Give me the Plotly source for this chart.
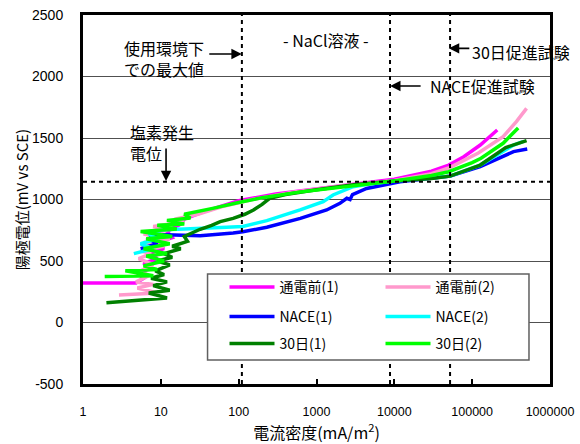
import plotly.graph_objects as go

# ---------------- data (current density mA/m2, anodic potential mV vs SCE) -------------
cur_pre1 = [1, 4.8, 6, 5, 7.5, 6, 9, 7, 11, 8, 14, 12, 18, 20, 35, 100, 300, 1000, 3000,
            10000, 30000, 50000, 78000, 127000, 210000]
pot_pre1 = [321, 321, 360, 400, 440, 480, 520, 560, 600, 640, 690, 740, 800, 840, 900, 990,
            1045, 1090, 1125, 1165, 1230, 1280, 1348, 1443, 1565]

cur_pre2 = [2.9, 9, 5, 8, 4.8, 7, 5.5, 8, 5.2, 7.5, 5.5, 11, 6, 13, 6, 12, 8, 20, 15, 30, 60,
            150, 500, 2000, 10000, 30000, 50000, 120000, 250000, 370000, 500000]
pot_pre2 = [224, 240, 280, 310, 330, 380, 420, 470, 520, 560, 580, 620, 650, 680, 720, 750,
            780, 820, 840, 880, 940, 1000, 1060, 1110, 1155, 1210, 1256, 1378, 1511, 1633, 1741]

cur_nace1 = [5.5, 9, 7, 8.5, 15, 32, 85, 113, 230, 620, 1350, 2000, 2450, 2700, 2900, 4400,
             11800, 30000, 52000, 127000, 340000, 510000]
pot_nace1 = [600, 640, 680, 715, 712, 706, 727, 738, 774, 847, 915, 969, 1010, 1000, 1040, 1090,
             1145, 1170, 1190, 1267, 1389, 1410]

cur_nace2 = [4.5, 8, 5.5, 9, 7, 10, 11, 20, 40, 70, 113, 230, 615, 1220, 1630, 2950, 5400,
             10000, 30000, 52000, 127000, 340000, 450000]
pot_nace2 = [560, 600, 640, 680, 720, 745, 755, 760, 765, 775, 780, 828, 915, 982, 1037, 1104,
             1131, 1150, 1175, 1190, 1280, 1443, 1470]

cur_d30_1 = [2.0, 9, 12, 7, 13, 8, 12, 7.5, 11, 8.5, 13, 9, 14, 11, 18, 14, 22, 20, 32, 45, 58,
             85, 120, 155, 200, 250, 400, 1000, 3000, 10000, 30000, 52000, 127000, 270000, 500000]
pot_d30_1 = [161, 194, 200, 240, 262, 300, 330, 360, 390, 420, 468, 500, 530, 560, 600, 620, 660,
             700, 758, 790, 820, 847, 880, 915, 960, 1010, 1040, 1080, 1120, 1150, 1170, 1190,
             1280, 1423, 1478]

cur_d30_2 = [1.9, 8, 3.5, 9, 6, 11, 6.5, 12, 6, 13, 6.5, 14, 5.5, 16, 9, 20, 12, 24, 20, 33, 48,
             100, 200, 600, 2000, 5000, 10000, 30000, 50000, 100000, 130000, 250000, 390000]
pot_d30_2 = [373, 380, 420, 430, 460, 500, 540, 560, 600, 640, 680, 700, 740, 760, 790, 800, 830,
             850, 880, 905, 930, 975, 1015, 1060, 1100, 1130, 1150, 1195, 1226, 1300, 1335, 1457,
             1581]

# reference lines
cl_potential = 1145          # chlorine evolution potential
field_max_cur = 110          # max current in service
nace_cur = 8800              # NACE accelerated test
d30_cur = 52000              # 30-day accelerated test

x_tickvals = [1, 10, 100, 1000, 10000, 100000, 1000000]
x_ticktext = ["1", "10", "100", "1000", "10000", "100000", "1000000"]
y_tickvals = [-500, 0, 500, 1000, 1500, 2000, 2500]
y_ticktext = ["-500", "0", "500", "1000", "1500", "2000", "2500"]

series = [
    ("通電前(1)", cur_pre1, pot_pre1, "#FF00FF", "legend"),
    ("通電前(2)", cur_pre2, pot_pre2, "#FF99CC", "legend"),
    ("NACE(1)", cur_nace1, pot_nace1, "#0000FF", "legend2"),
    ("NACE(2)", cur_nace2, pot_nace2, "#00FFFF", "legend2"),
    ("30日(1)", cur_d30_1, pot_d30_1, "#008000", "legend3"),
    ("30日(2)", cur_d30_2, pot_d30_2, "#00FF00", "legend3"),
]

JP = "Noto Sans CJK JP"
AR = "Liberation Sans"

fig = go.Figure()
for name, xs, ys, col, lg in series:
    fig.add_trace(go.Scatter(x=xs, y=ys, mode="lines", name=name, legend=lg,
                             line=dict(color=col, width=3.5)))

dot = dict(color="black", width=2, dash="4px,4px")
for v in [field_max_cur, nace_cur, d30_cur]:
    fig.add_trace(go.Scatter(x=[v, v], y=[-500, 2500], mode="lines", line=dot,
                             showlegend=False, hoverinfo="skip"))
fig.add_trace(go.Scatter(x=[1, 1000000], y=[cl_potential, cl_potential], mode="lines",
                         line=dot, showlegend=False, hoverinfo="skip"))

leg_common = dict(orientation="h", xanchor="left", yanchor="middle",
                  bgcolor="rgba(0,0,0,0)", borderwidth=0, itemwidth=45,
                  entrywidth=96, font=dict(family=JP, size=14, color="black"))
fig.update_layout(
    legend=dict(x=0.303, y=0.262, **leg_common),
    legend2=dict(x=0.303, y=0.1816, **leg_common),
    legend3=dict(x=0.303, y=0.109, **leg_common),
)

fig.add_shape(type="rect", xref="paper", yref="paper", x0=0.2667, x1=0.955, y0=0.065, y1=0.298,
              layer="above", fillcolor="white", line=dict(color="#606060", width=1.5))

ann_font = dict(family=JP, size=16, color="black")
annots = [
    dict(x=3.12, y=2297, text="- NaCl溶液 -", xanchor="center", yanchor="middle", showarrow=False),
    dict(x=0.50, y=2146, text="使用環境下<br>での最大値", xanchor="left", yanchor="middle",
         showarrow=False, align="left"),
    dict(x=0.578, y=1467, text="塩素発生<br>電位", xanchor="left", yanchor="middle",
         showarrow=False, align="left"),
    dict(x=4.434, y=1923, text="NACE促進試験", xanchor="left", yanchor="middle", showarrow=False),
    dict(x=4.974, y=2199, text="30日促進試験", xanchor="left", yanchor="middle", showarrow=False),
]
for a in annots:
    fig.add_annotation(font=ann_font, **a)

arrows = [
    dict(x=2.04, y=2183, ax=-34, ay=0),
    dict(x=1.067, y=1150, ax=0, ay=-34),
    dict(x=3.946, y=1923, ax=32, ay=0),
    dict(x=4.70, y=2229, ax=22, ay=0),
]
for a in arrows:
    fig.add_annotation(text="", showarrow=True, arrowhead=2, arrowsize=1.3, arrowwidth=1.6,
                       arrowcolor="black", axref="pixel", ayref="pixel", **a)

fig.update_xaxes(type="log", range=[0, 6], tickvals=x_tickvals, ticktext=x_ticktext,
                 ticks="inside", ticklen=5, tickwidth=1.5, tickcolor="black",
                 showline=True, linewidth=3, linecolor="black", mirror=True,
                 showgrid=False, zeroline=False, ticklabelstandoff=14, automargin=False,
                 tickfont=dict(family=AR, size=12.5, color="black"),
                 title=dict(text="電流密度(mA/m<sup>2</sup>)", standoff=4,
                            font=dict(family=JP, size=16, color="black")))
fig.update_yaxes(range=[-500, 2500], tickvals=y_tickvals, ticktext=y_ticktext,
                 ticks="", showline=True, linewidth=3, linecolor="black", mirror=True,
                 showgrid=True, gridcolor="#505050", gridwidth=1, zeroline=False,
                 ticklabelstandoff=14, automargin=False,
                 tickfont=dict(family=AR, size=14, color="black"),
                 title=dict(text="陽極電位(mV vs SCE)", standoff=0,
                            font=dict(family=JP, size=15, color="black")))

fig.update_layout(width=580, height=444, margin=dict(l=83, r=30, t=15, b=60),
                  paper_bgcolor="white", plot_bgcolor="white")

fig.write_html("out.html", config={"displayModeBar": False},
               post_script="document.body.style.margin='0';")
